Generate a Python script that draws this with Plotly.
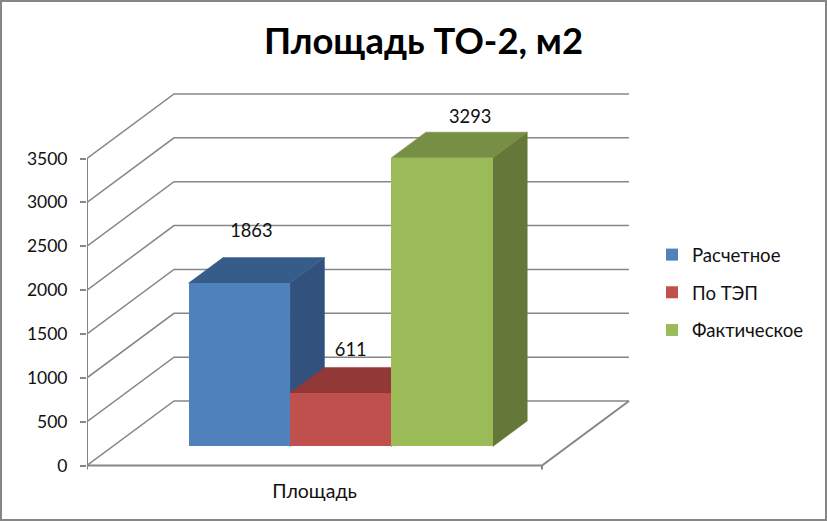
import plotly.graph_objects as go

# ---- data ----
category = "Площадь"
series_names = ["Расчетное", "По ТЭП", "Фактическое"]
series_values = [1863, 611, 3293]
tick_values = [0, 500, 1000, 1500, 2000, 2500, 3000, 3500]
title_text = "Площадь ТО-2, м2"

# ---- style ----
front_colors = ["#4F81BD", "#C0504D", "#9BBB59"]
top_colors = ["#365D8A", "#923938", "#768F44"]
side_colors = ["#32527D", "#7F3230", "#667839"]
GRID = "#868686"
FONT = "Lato, Carlito, Calibri, 'Open Sans', sans-serif"
W, H = 827, 521
L, R, T, B = 87.0, 630.0, 90.0, 470.0      # plot area in page pixels
Y0 = 465.5                                  # pixel of value 0
PX_PER_VALUE = 307.0 / 3500.0
X_PX = 455.0                                # pixels per category
BAR_W = 101.4 / X_PX
DEPTH_X = 87.0 / X_PX                       # wall depth, x units
DEPTH_Y = 64.5 / PX_PER_VALUE               # wall depth, value units
BAR_F0, BAR_F1 = 0.295, 0.69                # bar front/back as fraction of depth

x_rng = [-0.5, -0.5 + (R - L) / X_PX]
y_rng = [-(B - Y0) / PX_PER_VALUE, (Y0 - T) / PX_PER_VALUE]
x_lo, x_hi = -0.5, 0.5


def line(xs, ys, width=1.5):
    return go.Scatter(x=xs, y=ys, mode="lines", showlegend=False, hoverinfo="skip",
                      line=dict(color=GRID, width=width))


def poly(xs, ys, color):
    return go.Scatter(x=xs + xs[:1], y=ys + ys[:1], mode="lines", fill="toself", fillcolor=color,
                      line=dict(color=color, width=0.5), showlegend=False, hoverinfo="skip")


traces = []
# walls: gridlines run from the front-left edge to the back wall
for v in tick_values:
    traces.append(line([x_lo, x_lo + DEPTH_X, x_hi + DEPTH_X], [v, v + DEPTH_Y, v + DEPTH_Y]))
# floor, left axis line, tick marks on the category axis
tick_drop = (B - Y0 - 0.5) / PX_PER_VALUE
traces.append(line([x_lo, x_hi, x_hi + DEPTH_X], [0, 0, DEPTH_Y], 2))
traces.append(line([x_lo, x_lo], [-tick_drop, tick_values[-1]], 2))
traces.append(line([x_hi, x_hi], [-tick_drop, 0], 2))

# bar geometry
lefts = [(i - len(series_values) / 2) * BAR_W + 0.302 * DEPTH_X for i in range(len(series_values))]
base = BAR_F0 * DEPTH_Y
dx = (BAR_F1 - BAR_F0) * DEPTH_X
dy = (BAR_F1 - BAR_F0) * DEPTH_Y

# side and top faces, back to front
for i, v in enumerate(series_values):
    x0, x1 = lefts[i], lefts[i] + BAR_W
    top = base + v
    traces.append(poly([x1, x1 + dx, x1 + dx, x1], [base, base + dy, top + dy, top], side_colors[i]))
    traces.append(poly([x0, x1, x1 + dx, x0 + dx], [top, top, top + dy, top + dy], top_colors[i]))

# front faces, on an overlaid axis pair so that they cover the faces behind
for i, v in enumerate(series_values):
    traces.append(go.Bar(x=[lefts[i] + BAR_W / 2], y=[v], base=[base], width=[BAR_W],
                         name=series_names[i], legendgroup=series_names[i],
                         marker=dict(color=front_colors[i], line=dict(width=0)),
                         xaxis="x2", yaxis="y2"))

# value labels
label_dx_px = [12.0, 10.0, 28.0]
label_dy_px = [50.5, 41.0, 39.0]
traces.append(go.Scatter(
    x=[lefts[i] + BAR_W / 2 + label_dx_px[i] / X_PX for i in range(3)],
    y=[base + series_values[i] + label_dy_px[i] / PX_PER_VALUE for i in range(3)],
    text=[str(v) for v in series_values], mode="text", textposition="middle center",
    textfont=dict(family=FONT, size=18.3, color="#111111"),
    showlegend=False, hoverinfo="skip", xaxis="x2", yaxis="y2"))

fig = go.Figure(traces)
fig.update_layout(
    width=W, height=H,
    margin=dict(l=L, r=W - R, t=T, b=H - B, autoexpand=False),
    paper_bgcolor="white", plot_bgcolor="white",
    font=dict(family=FONT, size=17.5, color="#111111"),
    title=dict(text=title_text, x=423.5 / W, xref="container", xanchor="center", y=0.92, yanchor="middle",
               font=dict(family=FONT, size=36.4, color="black", weight="bold")),
    barmode="overlay",
    bargap=0,
    xaxis=dict(range=x_rng, tickvals=[0], ticktext=[category], showgrid=False, zeroline=False,
               showline=False, ticks="", ticklabelstandoff=7, fixedrange=True,
               tickfont=dict(family=FONT, size=19.5, color="#111111")),
    yaxis=dict(range=y_rng, tickvals=tick_values, showgrid=False, zeroline=False, showline=False,
               ticks="outside", ticklen=6, tickwidth=2, tickcolor=GRID, ticklabelstandoff=9,
               fixedrange=True, tickfont=dict(family=FONT, size=17.5, color="#111111")),
    xaxis2=dict(range=x_rng, overlaying="x", visible=False, fixedrange=True),
    yaxis2=dict(range=y_rng, overlaying="y", visible=False, fixedrange=True),
    legend=dict(x=(652 - L) / (R - L), xanchor="left", y=(B - 236) / (B - T),
                yanchor="top", tracegroupgap=10.5, bgcolor="rgba(0,0,0,0)",
                font=dict(family=FONT, size=18.6, color="#111111")),
    shapes=[dict(type="rect", xref="paper", yref="paper",
                 x0=(1 - L) / (R - L), x1=(826 - L) / (R - L),
                 y0=(B - 520) / (B - T), y1=(B - 1) / (B - T),
                 line=dict(color=GRID, width=2), fillcolor="rgba(0,0,0,0)", layer="above")],
)
fig.write_html("out.html", config=dict(displayModeBar=False),
               post_script="document.body.style.margin='0';")
